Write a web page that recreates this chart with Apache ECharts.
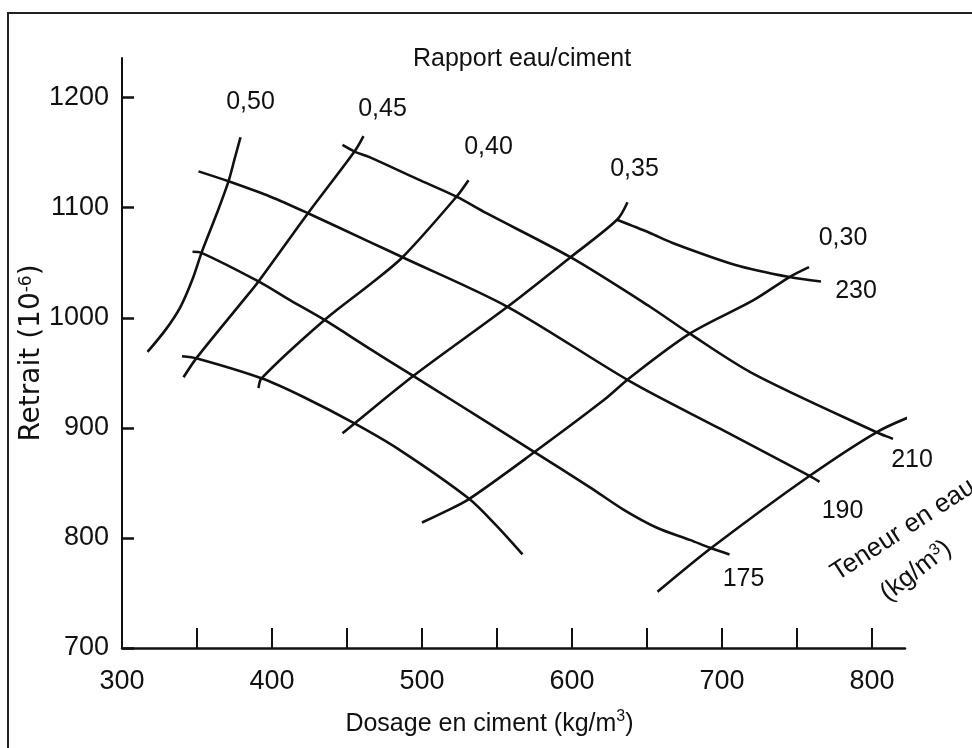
<!DOCTYPE html>
<html>
<head>
<meta charset="utf-8">
<script src="https://cdn.jsdelivr.net/npm/echarts@6.0.0/dist/echarts.min.js"></script>
<style>
  html, body { margin: 0; padding: 0; background: #ffffff; }
  #chart { width: 972px; height: 748px; }
</style>
</head>
<body>
<div id="chart"></div>
<script>
// ---------------- DATA ----------------
// Cement content (kg/m3) vs shrinkage (10^-6)
const xTickValues = [350, 400, 450, 500, 550, 600, 650, 700, 750, 800];
const xLabelValues = [300, 400, 500, 600, 700, 800];
const yTickValues = [700, 800, 900, 1000, 1100, 1200];
const yLabelValues = [700, 800, 900, 1000, 1100, 1200];

// Water/cement ratio curves (listed from top end to bottom end)
const wcLabels = ['0,50', '0,45', '0,40', '0,35', '0,30', '0,25'];
const wc050 = [[379,1164],[375,1144],[371,1124],[363,1094],[353,1059],[347,1035],[339,1010],[329,989],[317,969]];
const wc045 = [[461,1165],[455,1151],[424,1095],[391,1033],[381,1016],[350,964],[341,946]];
const wc040 = [[531,1125],[523,1110],[487,1055],[465,1030],[435,998],[393,945],[391,936]];
const wc035 = [[637,1105],[630,1089],[599,1055],[557,1010],[495,948],[455,904],[447,895]];
const wc030 = [[758,1046],[745,1037],[721,1016],[679,986],[639,946],[621,925],[575,878],[531,835],[514,823],[500,814]];
const wc025 = [[827,911],[803,896],[758,856],[693,791],[657,751]];

// Water content curves (kg/m3), listed from left end to right end
const weLabels = ['230', '210', '190', '175', ''];
const we230 = [[630,1089],[652,1077],[667,1068],[709,1048],[745,1037],[766,1033]];
const we210 = [[447,1157],[455,1151],[465,1146],[497,1126],[523,1110],[543,1095],[599,1055],[652,1010],[678,986],[721,949],[803,896],[814,890]];
const we190 = [[351,1133],[371,1124],[399,1110],[424,1095],[465,1069],[487,1055],[557,1010],[639,942],[699,899],[759,856],[765,851]];
const we175 = [[347,1060],[353,1059],[391,1033],[412,1016],[435,998],[465,972],[492,949],[519,926],[575,878],[612,846],[634,826],[657,809],[679,798],[692,791],[705,785]];
const weLow = [[340,965],[350,963],[393,945],[421,928],[455,904],[485,880],[531,836],[549,812],[567,785]];

// ---------------- STYLE ----------------
const SANS = "'Liberation Sans', Arial, Helvetica, sans-serif";
const INK = '#111111';
const wcSeries = [wc050, wc045, wc040, wc035, wc030, wc025];
const weSeries = [we230, we210, we190, we175, weLow];
const wcOffsets = [[10,-35],[19,-27],[20,-33],[7,-33],[34,-29],[32,-18]];
const weOffsets = [[35,10],[19,21],[23,29],[14,25],[0,0]];

function buildSeries(name, pts, labelIdx, offset) {
  return {
    type: 'line',
    name: name || 'sans libellé',
    data: pts.map(function (p, i) {
      if (i === labelIdx && name) {
        return {
          value: p,
          label: {
            show: true, formatter: name, position: 'inside', offset: offset,
            fontFamily: SANS, fontSize: 25, color: INK
          }
        };
      }
      return p;
    }),
    symbol: 'circle',
    symbolSize: 0,
    showSymbol: true,
    smooth: 0.3,
    lineStyle: { color: INK, width: 2.6 },
    itemStyle: { color: INK },
    silent: true,
    animation: false
  };
}

const series = [];
wcSeries.forEach(function (pts, k) { series.push(buildSeries(wcLabels[k], pts, 0, wcOffsets[k])); });
weSeries.forEach(function (pts, k) { series.push(buildSeries(weLabels[k], pts, pts.length - 1, weOffsets[k])); });

const chart = echarts.init(document.getElementById('chart'), null, { renderer: 'canvas' });
chart.setOption({
  backgroundColor: '#ffffff',
  animation: false,
  title: {
    text: 'Rapport eau/ciment',
    left: 413, top: 47, padding: 0,
    textStyle: { fontFamily: SANS, fontSize: 25, fontWeight: 'normal', color: INK }
  },
  grid: { left: 122, right: 67, top: 58, bottom: 100, containLabel: false, outerBoundsMode: 'none' },
  xAxis: {
    type: 'value', min: 300, max: 822, interval: 50,
    name: 'Dosage en ciment (kg/m{s|3})',
    nameLocation: 'middle', nameGap: 61, nameMoveOverlap: false,
    nameTextStyle: {
      fontFamily: SANS, fontSize: 25, color: INK, lineHeight: 30, padding: [0, 48, 0, 0],
      rich: { s: { fontFamily: SANS, fontSize: 16, lineHeight: 16, verticalAlign: 'top', color: INK } }
    },
    axisLine: { show: true, lineStyle: { color: INK, width: 2.5 } },
    axisTick: { show: true, inside: true, length: 20, lineStyle: { color: INK, width: 2 }, customValues: xTickValues },
    axisLabel: {
      fontFamily: SANS, fontSize: 27, color: INK, margin: 20, customValues: xLabelValues,
      formatter: function (v) { return String(v); }
    },
    splitLine: { show: false }
  },
  yAxis: {
    type: 'value', min: 700, max: 1236, interval: 100,
    name: 'Retrait (10{s|-6})',
    nameLocation: 'middle', nameRotate: 90, nameGap: 76, nameMoveOverlap: false,
    nameTextStyle: {
      fontFamily: "'DejaVu Sans', sans-serif", fontSize: 28, color: INK,
      rich: { s: { fontFamily: "'DejaVu Sans', sans-serif", fontSize: 17, lineHeight: 17, verticalAlign: 'top', color: INK } }
    },
    axisLine: { show: true, lineStyle: { color: INK, width: 2 } },
    axisTick: { show: true, inside: true, length: 12, lineStyle: { color: INK, width: 2.5 }, customValues: yTickValues },
    axisLabel: {
      fontFamily: SANS, fontSize: 27, color: INK, margin: 13, customValues: yLabelValues,
      formatter: function (v) { return String(v); }
    },
    splitLine: { show: false }
  },
  graphic: [
    {
      type: 'rect', silent: true, z: -10,
      shape: { x: 8, y: 13, width: 1200, height: 1200 },
      style: { fill: 'none', stroke: '#222222', lineWidth: 2 }
    },
    {
      type: 'text', silent: true, x: 903, y: 530, rotation: 33 * Math.PI / 180,
      style: { text: 'Teneur en eau', fontFamily: SANS, fontSize: 26, fill: INK, align: 'center', verticalAlign: 'middle' }
    },
    {
      type: 'text', silent: true, x: 916, y: 571, rotation: 38 * Math.PI / 180,
      style: {
        text: '(kg/m{s|3})', fontFamily: SANS, fontSize: 26, fill: INK, align: 'center', verticalAlign: 'middle',
        rich: { s: { fontFamily: SANS, fontSize: 16, verticalAlign: 'top', fill: INK } }
      }
    }
  ],
  series: series
});
</script>
</body>
</html>
